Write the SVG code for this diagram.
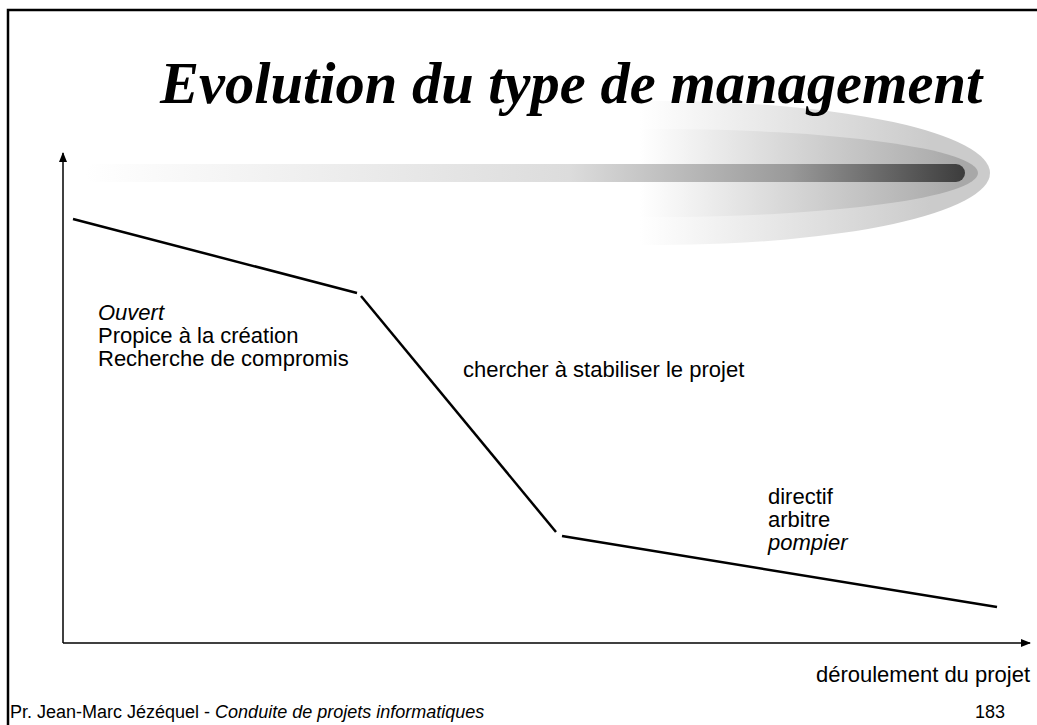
<svg xmlns="http://www.w3.org/2000/svg" width="1037" height="725" viewBox="0 0 1037 725">
<style>
.t{font-family:"Liberation Sans",Arial,sans-serif;font-size:22px;fill:#000}
.i{font-style:italic}
.f{font-family:"Liberation Sans",Arial,sans-serif;font-size:18px;fill:#000}
.ln{stroke:#000;stroke-width:2.5;fill:none;stroke-linecap:butt}
.ax{stroke:#000;stroke-width:1.5;fill:none}
</style>
<defs>
<linearGradient id="g1" gradientUnits="userSpaceOnUse" x1="640" y1="0" x2="930" y2="0">
<stop offset="0" stop-color="#fff"/><stop offset="1" stop-color="#cbcbcb"/></linearGradient>
<linearGradient id="g2" gradientUnits="userSpaceOnUse" x1="640" y1="0" x2="960" y2="0">
<stop offset="0" stop-color="#fff"/><stop offset="1" stop-color="#a8a8a8"/></linearGradient>
<linearGradient id="g3" gradientUnits="userSpaceOnUse" x1="85" y1="0" x2="965" y2="0">
<stop offset="0" stop-color="#fff"/><stop offset="0.55" stop-color="#dcdcdc"/><stop offset="0.8" stop-color="#9a9a9a"/><stop offset="1" stop-color="#3c3c3c"/></linearGradient>
<marker id="ar" markerWidth="10" markerHeight="10" refX="9" refY="5" orient="auto" markerUnits="userSpaceOnUse">
<path d="M0,1 L10,5 L0,9 Z" fill="#000"/></marker>
</defs>
<rect x="8" y="10" width="1040" height="730" fill="none" stroke="#000" stroke-width="2.5"/>
<g id="decor">
<ellipse cx="660" cy="173" rx="330" ry="72" fill="url(#g1)"/>
<ellipse cx="655" cy="173" rx="323" ry="44" fill="url(#g2)"/>
<rect x="85" y="164" width="880" height="18" rx="9" fill="url(#g3)"/>
</g>
<g id="title">
<text x="160" y="103" font-family="'Liberation Serif','Times New Roman',serif" font-size="58.5" font-weight="bold" font-style="italic">Evolution du type de management</text>
</g>
<g id="axes">
<line class="ax" x1="63" y1="643" x2="63" y2="153" marker-end="url(#ar)"/>
<line class="ax" x1="63" y1="643" x2="1030" y2="643" marker-end="url(#ar)"/>
</g>
<g id="curve">
<line class="ln" x1="73" y1="219" x2="357" y2="293"/>
<line class="ln" x1="361" y1="296" x2="556" y2="532"/>
<line class="ln" x1="562" y1="536" x2="997" y2="607"/>
</g>
<g id="phase1">
<text class="t i" x="98" y="320">Ouvert</text>
<text class="t" x="98" y="343">Propice à la création</text>
<text class="t" x="98" y="366">Recherche de compromis</text>
</g>
<g id="phase2">
<text class="t" x="463" y="377">chercher à stabiliser le projet</text>
</g>
<g id="phase3">
<text class="t" x="768" y="504">directif</text>
<text class="t" x="768" y="527">arbitre</text>
<text class="t i" x="768" y="550">pompier</text>
</g>
<text class="t" x="1030" y="682" text-anchor="end">déroulement du projet</text>
<text class="f" x="10" y="718">Pr. Jean-Marc Jézéquel - <tspan font-style="italic">Conduite de projets informatiques</tspan></text>
<text class="f" x="1005" y="718" text-anchor="end">183</text>
</svg>
